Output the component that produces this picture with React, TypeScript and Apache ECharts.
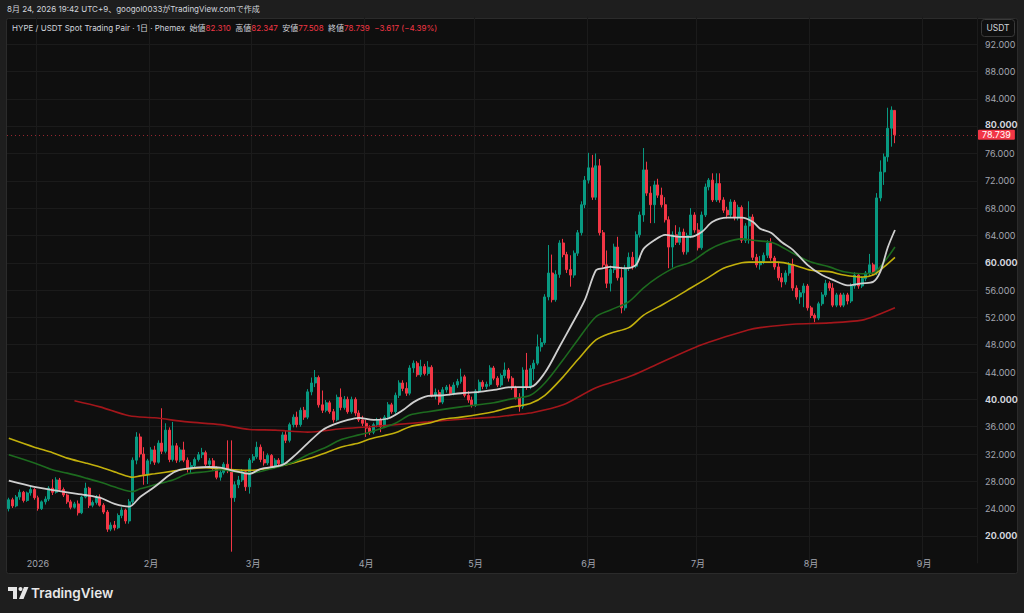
import React, { useEffect, useRef } from "react";
import * as echarts from "echarts";

// ---------- categories ----------
const FIRST_DAY = "2025-12-24";
const AXIS_DAYS = 266; // through 2026-09-14 (empty space on the right)

// ---------- candles: [open, close, low, high] ----------
const dec2025 = [
  [24.0, 25.3, 23.6, 25.6], [25.3, 24.4, 24.1, 25.6], [24.4, 25.7, 24.2, 26.0], [25.7, 26.4, 25.3, 26.8],
  [26.4, 25.2, 24.9, 26.6], [25.2, 26.3, 25.0, 26.5], [26.3, 26.8, 25.9, 27.4], [26.8, 25.6, 25.3, 27.0],
];
const jan2026 = [
  [25.6, 24.0, 23.7, 25.9], [24.0, 25.0, 23.8, 25.2], [25.0, 25.4, 24.6, 25.8], [25.4, 27.0, 25.1, 27.3],
  [27.0, 26.4, 26.0, 28.3], [26.4, 28.2, 26.2, 28.6], [28.2, 26.8, 26.5, 28.5], [26.8, 26.0, 25.7, 27.1],
  [26.0, 25.0, 24.7, 26.2], [25.0, 24.2, 23.9, 25.3], [24.2, 24.7, 24.0, 25.0], [24.7, 23.4, 23.0, 25.2],
  [23.4, 25.7, 23.2, 25.9], [25.7, 27.0, 25.5, 27.8], [27.0, 24.5, 24.1, 27.2], [24.5, 24.9, 24.2, 25.2],
  [24.9, 25.7, 24.6, 26.0], [25.7, 24.5, 24.3, 26.1], [24.5, 23.5, 23.2, 24.8], [23.5, 21.0, 20.6, 23.8],
  [21.0, 21.6, 20.7, 22.0], [21.6, 21.2, 20.8, 22.2], [21.2, 23.0, 21.0, 23.3], [23.0, 23.8, 22.6, 24.2],
  [23.8, 22.2, 21.8, 24.0], [22.2, 25.0, 21.8, 25.4], [25.0, 31.1, 24.6, 31.5], [31.1, 34.5, 30.5, 35.2],
  [34.5, 32.0, 31.5, 35.0], [32.0, 29.0, 27.5, 33.0], [29.0, 31.0, 27.6, 31.3],
];
const feb2026 = [
  [31.0, 32.6, 30.5, 33.0], [32.6, 30.8, 30.4, 33.2], [30.8, 33.6, 30.6, 34.0], [33.6, 32.4, 32.0, 38.7],
  [32.4, 35.5, 32.1, 36.5], [35.5, 31.2, 30.8, 35.9], [31.2, 33.2, 30.9, 36.7], [33.2, 31.1, 30.7, 33.6],
  [31.1, 32.6, 30.8, 33.0], [32.6, 31.1, 30.8, 33.8], [31.1, 29.8, 29.3, 31.5], [29.8, 30.3, 29.2, 30.8],
  [30.3, 31.2, 29.9, 31.5], [31.2, 31.9, 30.9, 32.3], [31.9, 32.2, 31.4, 32.9], [32.2, 30.5, 30.2, 32.5],
  [30.5, 31.0, 30.2, 31.4], [31.0, 30.0, 29.7, 31.4], [30.0, 28.6, 28.3, 30.2], [28.6, 29.3, 28.1, 29.6],
  [29.3, 30.5, 29.0, 30.8], [30.5, 29.6, 29.2, 34.0], [29.6, 25.6, 17.7, 34.0], [25.6, 27.5, 25.0, 28.0],
  [27.5, 28.2, 27.0, 28.8], [28.2, 29.4, 27.9, 29.8], [29.4, 27.2, 26.6, 29.6], [27.2, 31.1, 26.2, 31.4],
];
const mar2026 = [
  [31.1, 31.6, 30.7, 32.0], [31.6, 33.0, 31.3, 33.8], [33.0, 31.2, 30.8, 33.4], [31.2, 30.7, 30.3, 32.4],
  [30.7, 31.8, 30.4, 32.1], [31.8, 30.1, 29.8, 32.0], [30.1, 31.1, 29.9, 31.4], [31.1, 30.6, 30.2, 31.4],
  [30.6, 34.8, 30.4, 35.2], [34.8, 34.0, 33.6, 35.4], [34.0, 36.3, 33.7, 36.6], [36.3, 37.4, 35.9, 37.8],
  [37.4, 36.3, 35.9, 38.2], [36.3, 38.4, 36.0, 38.8], [38.4, 37.4, 37.0, 38.9], [37.4, 41.1, 37.1, 41.5],
  [41.1, 42.4, 40.6, 43.2], [42.4, 43.2, 41.8, 44.3], [43.2, 39.2, 38.8, 43.5], [39.2, 38.4, 38.0, 41.3],
  [38.4, 39.5, 38.1, 39.9], [39.5, 38.2, 37.9, 39.8], [38.2, 37.0, 36.6, 38.6], [37.0, 40.3, 36.8, 40.7],
  [40.3, 38.8, 38.4, 41.6], [38.8, 40.0, 38.5, 40.5], [40.0, 38.2, 37.9, 40.4], [38.2, 40.0, 37.9, 40.4],
  [40.0, 38.0, 37.6, 40.3], [38.0, 37.0, 36.7, 38.4], [37.0, 36.5, 36.1, 37.6],
];
const apr2026 = [
  [36.5, 35.8, 34.5, 37.0], [35.8, 35.2, 34.8, 36.2], [35.2, 36.3, 34.9, 36.6], [36.3, 37.0, 35.9, 37.3],
  [37.0, 36.0, 35.2, 37.3], [36.0, 37.4, 35.8, 37.7], [37.4, 39.2, 37.0, 39.6], [39.2, 38.2, 37.9, 39.5],
  [38.2, 40.6, 37.9, 41.0], [40.6, 42.4, 40.2, 42.8], [42.4, 41.6, 41.2, 42.8], [41.6, 40.9, 40.5, 42.5],
  [40.9, 44.6, 40.6, 45.0], [44.6, 45.3, 43.9, 45.7], [45.3, 43.6, 43.3, 45.6], [43.6, 44.8, 43.3, 45.8],
  [44.8, 43.8, 43.5, 45.2], [43.8, 44.7, 43.5, 45.6], [44.7, 40.6, 40.3, 45.0], [40.6, 41.0, 40.0, 41.6],
  [41.0, 39.6, 39.2, 41.4], [39.6, 41.4, 39.3, 41.8], [41.4, 41.8, 41.0, 42.1], [41.8, 40.9, 40.6, 42.2],
  [40.9, 42.1, 40.6, 42.5], [42.1, 42.6, 41.7, 43.0], [42.6, 43.3, 42.3, 44.5], [43.3, 40.6, 40.3, 43.6],
  [40.6, 39.9, 39.5, 41.2], [39.9, 39.2, 38.8, 40.4],
];
const may2026 = [
  [39.2, 41.2, 38.9, 41.5], [41.2, 42.5, 40.9, 42.9], [42.5, 41.9, 41.5, 42.8], [41.9, 42.2, 41.5, 42.6],
  [42.2, 44.6, 41.9, 45.0], [44.6, 43.1, 42.8, 44.9], [43.1, 42.1, 41.8, 43.4], [42.1, 43.5, 41.8, 43.8],
  [43.5, 44.3, 43.1, 45.4], [44.3, 43.1, 42.6, 44.6], [43.1, 41.7, 41.4, 43.4], [41.7, 40.3, 40.0, 42.0],
  [40.3, 38.9, 38.2, 40.9], [38.9, 44.3, 38.6, 44.7], [44.3, 41.8, 41.4, 46.8], [41.8, 44.5, 41.5, 45.0],
  [44.5, 45.3, 42.8, 45.8], [45.3, 47.7, 45.0, 49.5], [47.7, 48.3, 47.0, 49.0], [48.3, 55.0, 48.0, 55.4],
  [55.0, 58.5, 54.5, 62.6], [58.5, 54.6, 54.2, 61.2], [54.6, 58.3, 54.3, 58.9], [58.3, 62.9, 57.8, 63.3],
  [62.9, 61.2, 60.8, 63.5], [61.2, 59.0, 58.5, 61.6], [59.0, 58.2, 56.5, 61.1], [58.2, 61.4, 57.8, 61.8],
  [61.4, 64.4, 61.0, 64.8], [64.4, 68.5, 64.0, 69.0], [68.5, 72.1, 68.0, 72.7],
];
const jun2026 = [
  [72.1, 73.9, 71.6, 76.1], [73.9, 69.6, 69.2, 75.8], [69.6, 74.2, 69.2, 76.0], [74.2, 64.4, 64.0, 75.2],
  [64.4, 59.7, 59.3, 64.8], [59.7, 57.0, 56.3, 61.8], [57.0, 59.0, 55.8, 59.6], [59.0, 62.3, 58.5, 62.8],
  [62.3, 57.8, 57.4, 63.8], [57.8, 53.4, 52.6, 59.4], [53.4, 59.2, 53.0, 59.7], [59.2, 60.8, 58.8, 61.5],
  [60.8, 59.5, 59.0, 61.6], [59.5, 64.1, 59.2, 64.6], [64.1, 67.0, 63.7, 67.5], [67.0, 73.6, 66.0, 76.8],
  [73.6, 70.2, 69.8, 74.8], [70.2, 68.5, 65.8, 71.2], [68.5, 71.4, 65.8, 72.0], [71.4, 69.9, 69.5, 72.3],
  [69.9, 68.5, 68.1, 71.0], [68.5, 66.3, 65.9, 69.6], [66.3, 62.3, 59.2, 66.8], [62.3, 64.1, 59.3, 64.6],
  [64.1, 63.0, 62.6, 65.5], [63.0, 64.5, 62.6, 65.2], [64.5, 61.6, 61.2, 65.0], [61.6, 64.0, 61.2, 64.4],
  [64.0, 67.0, 63.6, 68.0], [67.0, 64.8, 64.4, 67.4],
];
const jul2026 = [
  [64.8, 62.2, 61.8, 65.8], [62.2, 67.0, 61.9, 67.5], [67.0, 71.1, 66.7, 71.6], [71.1, 72.1, 70.6, 72.4],
  [72.1, 69.2, 68.9, 73.1], [69.2, 71.6, 68.9, 73.1], [71.6, 69.2, 68.8, 73.1], [69.2, 67.7, 67.3, 69.6],
  [67.7, 67.0, 66.5, 68.2], [67.0, 68.9, 66.7, 69.3], [68.9, 66.6, 66.2, 69.2], [66.6, 68.1, 66.2, 68.5],
  [68.1, 63.3, 62.9, 68.4], [63.3, 65.4, 62.9, 65.8], [65.4, 66.7, 62.8, 69.0], [66.7, 60.8, 60.4, 67.1],
  [60.8, 59.7, 59.3, 61.3], [59.7, 60.2, 59.0, 61.0], [60.2, 61.1, 59.8, 61.5], [61.1, 62.9, 60.7, 63.3],
  [62.9, 60.7, 60.3, 63.6], [60.7, 59.4, 59.0, 61.0], [59.4, 57.8, 57.4, 60.0], [57.8, 57.2, 56.4, 58.5],
  [57.2, 58.5, 56.8, 58.9], [58.5, 59.7, 58.1, 60.1], [59.7, 56.3, 55.9, 60.6], [56.3, 55.0, 54.6, 56.7],
  [55.0, 55.6, 54.0, 56.0], [55.6, 56.6, 53.5, 57.0], [56.6, 53.4, 53.0, 56.9],
];
const aug2026 = [
  [53.4, 52.3, 51.9, 53.7], [52.3, 51.9, 51.3, 52.6], [51.9, 54.0, 51.6, 54.3], [54.0, 55.3, 53.7, 55.7],
  [55.3, 57.0, 55.0, 57.5], [57.0, 56.3, 55.9, 57.3], [56.3, 53.8, 53.5, 57.0], [53.8, 55.3, 53.5, 55.6],
  [55.3, 53.8, 53.5, 55.6], [53.8, 55.3, 53.5, 55.6], [55.3, 54.4, 53.9, 55.6], [54.4, 56.6, 54.1, 57.0],
  [56.6, 58.2, 56.2, 58.6], [58.2, 56.6, 56.2, 58.5], [56.6, 57.7, 56.3, 58.0], [57.7, 58.5, 57.3, 58.8],
  [58.5, 59.7, 58.1, 61.3], [59.7, 58.5, 58.1, 60.0], [58.5, 69.5, 58.2, 70.2], [69.5, 73.3, 69.0, 75.0],
  [73.3, 75.5, 71.4, 76.0], [75.5, 79.7, 74.8, 82.7], [79.7, 82.356, 77.0, 82.9], [82.31, 78.739, 77.508, 82.347],
];

// ---------- moving averages (sampled) ----------
const maWhite: [string, number][] = [
  ["2025-12-24", 28.1], ["2025-12-31", 27.2], ["2026-01-09", 26.4], ["2026-01-14", 26.0], ["2026-01-18", 25.6],
  ["2026-01-22", 24.7], ["2026-01-26", 24.3], ["2026-01-29", 25.7], ["2026-02-02", 27.2], ["2026-02-06", 28.9],
  ["2026-02-09", 29.7], ["2026-02-13", 30.0], ["2026-02-17", 30.1], ["2026-02-20", 30.0], ["2026-02-24", 29.5],
  ["2026-02-28", 29.1], ["2026-03-03", 29.8], ["2026-03-09", 30.4], ["2026-03-12", 31.6], ["2026-03-16", 33.6],
  ["2026-03-20", 35.5], ["2026-03-23", 36.3], ["2026-03-27", 37.0], ["2026-03-30", 37.3], ["2026-04-03", 37.0],
  ["2026-04-07", 37.2], ["2026-04-11", 38.4], ["2026-04-14", 39.6], ["2026-04-18", 40.5], ["2026-04-22", 40.6],
  ["2026-04-27", 40.9], ["2026-05-02", 41.1], ["2026-05-06", 41.4], ["2026-05-11", 41.8], ["2026-05-16", 41.8],
  ["2026-05-20", 43.9], ["2026-05-24", 47.7], ["2026-05-27", 50.6], ["2026-05-31", 54.6], ["2026-06-03", 58.9],
  ["2026-06-05", 59.2], ["2026-06-07", 59.4], ["2026-06-11", 59.2], ["2026-06-14", 59.7], ["2026-06-16", 62.0],
  ["2026-06-19", 63.3], ["2026-06-22", 64.1], ["2026-06-26", 63.8], ["2026-06-29", 63.8], ["2026-07-02", 64.5],
  ["2026-07-05", 66.0], ["2026-07-09", 66.6], ["2026-07-13", 66.6], ["2026-07-16", 66.0], ["2026-07-18", 65.0],
  ["2026-07-21", 64.4], ["2026-07-24", 63.0], ["2026-07-27", 61.9], ["2026-07-31", 59.7], ["2026-08-04", 58.2],
  ["2026-08-07", 57.5], ["2026-08-11", 56.7], ["2026-08-15", 57.0], ["2026-08-18", 57.2], ["2026-08-20", 58.7],
  ["2026-08-22", 62.2], ["2026-08-24", 64.8],
];
const maGreen: [string, number][] = [
  ["2025-12-24", 31.9], ["2025-12-31", 30.7], ["2026-01-05", 29.7], ["2026-01-09", 29.2], ["2026-01-14", 28.5],
  ["2026-01-18", 27.9], ["2026-01-23", 27.0], ["2026-01-27", 26.5], ["2026-01-29", 26.9], ["2026-02-02", 27.5],
  ["2026-02-07", 28.2], ["2026-02-11", 29.1], ["2026-02-16", 29.4], ["2026-02-20", 29.7], ["2026-02-24", 29.4],
  ["2026-02-28", 29.2], ["2026-03-07", 30.0], ["2026-03-12", 30.8], ["2026-03-16", 31.9], ["2026-03-21", 33.0],
  ["2026-03-25", 34.1], ["2026-03-30", 34.8], ["2026-04-02", 35.2], ["2026-04-09", 36.5], ["2026-04-13", 37.7],
  ["2026-04-18", 38.2], ["2026-04-27", 38.9], ["2026-05-06", 39.5], ["2026-05-11", 40.1], ["2026-05-16", 40.6],
  ["2026-05-20", 42.4], ["2026-05-25", 45.8], ["2026-05-29", 48.7], ["2026-06-03", 52.1], ["2026-06-07", 53.1],
  ["2026-06-12", 54.3], ["2026-06-16", 56.3], ["2026-06-20", 57.9], ["2026-06-25", 59.4], ["2026-06-29", 60.1],
  ["2026-07-04", 61.9], ["2026-07-08", 62.9], ["2026-07-13", 63.5], ["2026-07-16", 63.3], ["2026-07-21", 63.0],
  ["2026-07-23", 62.6], ["2026-07-27", 61.4], ["2026-08-01", 60.1], ["2026-08-06", 59.4], ["2026-08-10", 58.7],
  ["2026-08-15", 58.4], ["2026-08-18", 58.5], ["2026-08-21", 60.1], ["2026-08-24", 62.3],
];
const maYellow: [string, number][] = [
  ["2025-12-24", 34.3], ["2025-12-31", 33.0], ["2026-01-05", 32.2], ["2026-01-09", 31.4], ["2026-01-14", 30.7],
  ["2026-01-18", 30.1], ["2026-01-23", 29.2], ["2026-01-27", 28.6], ["2026-01-29", 28.8], ["2026-02-02", 29.1],
  ["2026-02-07", 29.5], ["2026-02-11", 29.8], ["2026-02-16", 30.0], ["2026-02-20", 29.8], ["2026-02-24", 29.7],
  ["2026-02-28", 29.6], ["2026-03-07", 30.1], ["2026-03-12", 30.7], ["2026-03-16", 31.3], ["2026-03-21", 32.2],
  ["2026-03-25", 33.0], ["2026-03-30", 33.6], ["2026-04-02", 34.2], ["2026-04-09", 35.1], ["2026-04-13", 36.0],
  ["2026-04-18", 36.5], ["2026-04-22", 37.1], ["2026-04-27", 37.4], ["2026-05-06", 38.2], ["2026-05-11", 38.9],
  ["2026-05-16", 39.4], ["2026-05-20", 40.6], ["2026-05-25", 43.3], ["2026-05-29", 45.8], ["2026-06-03", 48.7],
  ["2026-06-07", 49.7], ["2026-06-12", 50.5], ["2026-06-16", 52.3], ["2026-06-20", 53.5], ["2026-06-25", 55.0],
  ["2026-06-29", 56.3], ["2026-07-04", 57.9], ["2026-07-08", 59.2], ["2026-07-13", 60.0], ["2026-07-15", 60.1],
  ["2026-07-21", 60.1], ["2026-07-23", 60.1], ["2026-07-27", 59.7], ["2026-08-01", 58.9], ["2026-08-06", 58.7],
  ["2026-08-10", 58.2], ["2026-08-15", 57.9], ["2026-08-18", 58.2], ["2026-08-21", 59.4], ["2026-08-24", 60.8],
];
const maRed: [string, number][] = [
  ["2026-01-11", 39.8], ["2026-01-18", 38.9], ["2026-01-26", 37.6], ["2026-02-02", 37.3], ["2026-02-11", 36.7],
  ["2026-02-20", 36.3], ["2026-02-28", 35.6], ["2026-03-07", 35.5], ["2026-03-16", 35.2], ["2026-03-25", 35.7],
  ["2026-04-02", 36.0], ["2026-04-09", 36.3], ["2026-04-18", 36.7], ["2026-04-27", 37.1], ["2026-05-06", 37.4],
  ["2026-05-11", 37.7], ["2026-05-16", 38.0], ["2026-05-25", 39.2], ["2026-06-03", 41.7], ["2026-06-12", 43.3],
  ["2026-06-18", 44.7], ["2026-07-02", 48.0], ["2026-07-15", 50.2], ["2026-07-18", 50.5], ["2026-07-27", 51.0],
  ["2026-08-06", 51.2], ["2026-08-15", 51.6], ["2026-08-19", 52.3], ["2026-08-24", 53.4],
];

const LAST_PRICE = 78.739;
const HEADER = "8月 24, 2026 19:42 UTC+9、googol0033がTradingView.comで作成";
const LEGEND_NAME = "HYPE / USDT Spot Trading Pair · 1日 · Phemex";
const LEGEND_VALUES = [
  ["始値", "82.310"],
  ["高値", "82.347"],
  ["安値", "77.508"],
  ["終値", "78.739"],
];
const LEGEND_CHANGE = "−3.617 (−4.39%)";

const UP = "#089981";
const DOWN = "#f23645";
const FONT = "Inter, 'Noto Sans CJK JP', 'Noto Sans', sans-serif";

function buildDates(start: string, count: number): string[] {
  const out: string[] = [];
  const d = new Date(start + "T00:00:00Z");
  for (let i = 0; i < count; i++) {
    out.push(d.toISOString().slice(0, 10));
    d.setUTCDate(d.getUTCDate() + 1);
  }
  return out;
}

export default function App() {
  const ref = useRef<HTMLDivElement>(null);

  useEffect(() => {
    if (!ref.current) return;
    const chart = echarts.init(ref.current, null, { renderer: "svg" });
    const dates = buildDates(FIRST_DAY, AXIS_DAYS);
    const candles = [
      ...dec2025, ...jan2026, ...feb2026, ...mar2026, ...apr2026,
      ...may2026, ...jun2026, ...jul2026, ...aug2026,
    ];

    const gridColors: string[] = [];
    for (let v = 16; v <= 96; v += 4) {
      gridColors.push(v === 16 || v === 96 ? "rgba(0,0,0,0)" : "#1b1b1b");
    }

    const legendText =
      `{t|${LEGEND_NAME}}  ` +
      LEGEND_VALUES.map(([k, v]) => `{l|${k}}{v|${v}}`).join("  ") +
      `  {v|${LEGEND_CHANGE}}`;

    const lineSeries = (name: string, data: [string, number][], color: string, width: number) => ({
      name,
      type: "line",
      data,
      showSymbol: false,
      symbol: "none",
      smooth: 0.3,
      z: 3,
      lineStyle: { color, width },
      silent: true,
    });

    const LF = 8;

    chart.setOption({
      animation: false,
      backgroundColor: "#1e1e1e",
      textStyle: { fontFamily: FONT },
      grid: { left: 7, right: 47, top: 16.9, bottom: 49.7, containLabel: false },
      xAxis: {
        type: "category",
        data: dates,
        boundaryGap: true,
        axisLine: { show: false },
        axisTick: { show: false },
        axisLabel: {
          interval: (_i: number, v: string) => v.endsWith("-01"),
          formatter: (v: string) => {
            const [y, m] = v.split("-");
            if (m === "01") return y;
            return `${parseInt(m, 10)}月`;
          },
          color: "#a3a6af",
          fontSize: 9,
          fontFamily: FONT,
          margin: -4,
        },
        splitLine: {
          show: true,
          interval: (_i: number, v: string) => v.endsWith("-01"),
          lineStyle: { color: "#1b1b1b", width: 1 },
        },
      },
      yAxis: {
        type: "value",
        position: "right",
        min: 16,
        max: 96,
        interval: 4,
        scale: true,
        axisLine: { show: false },
        axisTick: { show: false },
        splitLine: { show: true, lineStyle: { color: gridColors, width: 1 } },
        axisLabel: {
          margin: 8,
          fontFamily: FONT,
          formatter: (v: number) => {
            if (v === 16 || v === 96) return "";
            const s = v.toFixed(3);
            if (v === 80) return `{c|${s}}`;
            return v % 20 === 0 ? `{b|${s}}` : `{n|${s}}`;
          },
          rich: {
            b: { color: "#d1d4dc", fontWeight: "bold", fontSize: 9, fontFamily: FONT },
            c: {
              color: "#d1d4dc",
              fontWeight: "bold",
              fontSize: 9,
              lineHeight: 9,
              fontFamily: FONT,
              padding: [0, 0, 4, 0],
            },
            n: { color: "#a3a6af", fontSize: 9, fontFamily: FONT },
          },
        },
      },
      series: [
        {
          name: "HYPE",
          type: "candlestick",
          data: candles,
          barWidth: "68%",
          z: 2,
          itemStyle: {
            color: UP,
            color0: DOWN,
            borderColor: UP,
            borderColor0: DOWN,
            borderWidth: 1,
          },
          markLine: {
            silent: true,
            symbol: ["none", "none"],
            lineStyle: { color: "rgba(242,54,69,0.6)", type: [1, 3], width: 1 },
            label: {
              show: true,
              position: "end",
              distance: 1,
              formatter: () => LAST_PRICE.toFixed(3),
              color: "#ffffff",
              backgroundColor: DOWN,
              padding: [0, 4, 0, 4],
              fontSize: 9,
              lineHeight: 10,
              fontFamily: FONT,
              borderRadius: 1,
            },
            data: [{ yAxis: LAST_PRICE }],
          },
        },
        lineSeries("MA200", maRed, "#a3161b", 1.6),
        lineSeries("MA100", maYellow, "#c2b00c", 1.6),
        lineSeries("MA50", maGreen, "#1d6b1f", 1.6),
        lineSeries("MA20", maWhite, "#cfcfcf", 1.8),
      ],
      graphic: [
        {
          type: "rect",
          z: -10,
          silent: true,
          shape: { x: 6.5, y: 18.5, width: 1011, height: 555, r: 2 },
          style: { fill: "#0f0f0f", stroke: "#2b2b2b", lineWidth: 1 },
        },
        {
          type: "text",
          left: 7,
          top: 5,
          silent: true,
          style: { text: HEADER, fill: "#d1d4dc", fontSize: LF, fontFamily: FONT },
        },
        {
          type: "text",
          left: 12,
          top: 23.5,
          z: 20,
          silent: true,
          style: {
            text: legendText,
            fontFamily: FONT,
            fontSize: LF,
            rich: {
              t: { fill: "#d1d4dc", color: "#d1d4dc", fontSize: LF, fontFamily: FONT },
              l: { fill: "#d1d4dc", color: "#d1d4dc", fontSize: LF, fontFamily: FONT },
              v: { fill: DOWN, color: DOWN, fontSize: LF, fontFamily: FONT },
            },
          },
        },
        {
          type: "rect",
          z: 20,
          silent: true,
          shape: { x: 981.5, y: 19.5, width: 33, height: 17, r: 3 },
          style: { fill: "#0f0f0f", stroke: "#3a3a3a", lineWidth: 1 },
        },
        {
          type: "text",
          z: 21,
          silent: true,
          x: 998,
          y: 28,
          style: {
            text: "USDT",
            fill: "#d1d4dc",
            fontSize: 8.5,
            fontFamily: FONT,
            align: "center",
            verticalAlign: "middle",
          },
        },
        {
          type: "group",
          silent: true,
          children: [
            { type: "rect", shape: { x: 8, y: 587, width: 9, height: 4 }, style: { fill: "#e6e6e6" } },
            { type: "rect", shape: { x: 13, y: 587, width: 4, height: 12 }, style: { fill: "#e6e6e6" } },
            { type: "circle", shape: { cx: 20.5, cy: 589, r: 2 }, style: { fill: "#e6e6e6" } },
            {
              type: "polygon",
              shape: { points: [[24, 587], [28.5, 587], [23.5, 599], [19, 599]] },
              style: { fill: "#e6e6e6" },
            },
            {
              type: "text",
              x: 31,
              y: 593,
              style: {
                text: "TradingView",
                fill: "#e8e8e8",
                fontSize: 13.5,
                fontWeight: 600,
                fontFamily: FONT,
                verticalAlign: "middle",
              },
            },
          ],
        },
      ],
    });

    return () => chart.dispose();
  }, []);

  return (
    <div
      ref={ref}
      style={{ position: "fixed", left: 0, top: 0, width: 1024, height: 613 }}
    />
  );
}
